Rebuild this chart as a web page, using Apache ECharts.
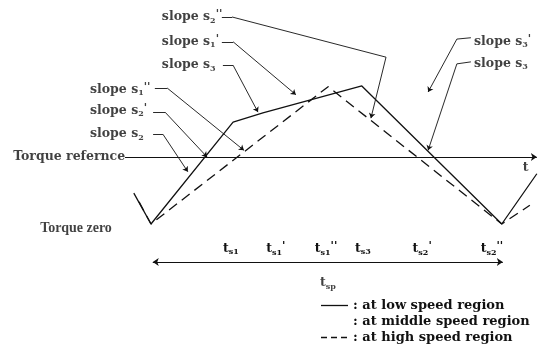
<!DOCTYPE html>
<html>
<head>
<meta charset="utf-8">
<script src="https://cdn.jsdelivr.net/npm/echarts@6/dist/echarts.min.js"></script>
<style>
  html, body { margin: 0; padding: 0; background: #fff; }
  #chart { width: 542px; height: 362px; }
</style>
</head>
<body>
<div id="chart"></div>
<script>
// Torque waveform over one switching period.
// Time in arbitrary units (period = 0..10), torque scaled so that 0 = zero and 1 = reference.
const lowSpeedTime    = [-0.49, 0, 2.34, 3.19, 6.01, 10.0, 11.0];
const lowSpeedTorque  = [0.46, 0, 1.52, 1.66, 2.06, 0, 0.75];
const highSpeedTime   = [-0.34, 0, 5.05, 10.0, 10.8];
const highSpeedTorque = [0.33, 0, 2.05, 0, 0.28];
const torqueReference = 1;
const periodStart = 0;
const periodEnd = 10;

// switching instants marked under the curves
const tickTimes  = [2.28, 3.56, 4.99, 6.04, 7.73, 9.72];
const tickSubs   = ['s1', 's1', 's1', 's3', 's2', 's2'];
const tickPrimes = ['', "'", "''", '', "'", "''"];

const legendNames = ['at low speed region', 'at middle speed region', 'at high speed region'];

const FONT = "'DejaVu Serif', 'Liberation Serif', serif";
const FONT_TIMES = "'Liberation Serif', 'Times New Roman', serif";
const INK = '#111';

const zip = (a, b) => a.map((v, i) => [v, b[i]]);

// slope callouts: label text pieces, label anchor and leader polyline (data units)
const slopeNotes = [
  { sub: '2', prime: "''", at: [0.31, 3.09], leader: [[2.02, 3.09], [2.31, 3.09], [6.70, 2.49], [6.27, 1.58]] },
  { sub: '1', prime: "'",  at: [0.31, 2.72], leader: [[2.02, 2.72], [2.34, 2.72], [4.13, 1.93]] },
  { sub: '3', prime: '',   at: [0.31, 2.37], leader: [[2.05, 2.37], [2.34, 2.37], [3.05, 1.67]] },
  { sub: '1', prime: "''", at: [-1.74, 2.01], leader: [[0.11, 2.03], [0.46, 2.03], [2.65, 1.10]] },
  { sub: '2', prime: "'",  at: [-1.74, 1.69], leader: [[0.06, 1.67], [0.40, 1.67], [1.60, 1.0]] },
  { sub: '2', prime: '',   at: [-1.74, 1.34], leader: [[0.06, 1.34], [0.34, 1.34], [1.05, 0.78]] },
  { sub: '3', prime: "'",  at: [9.21, 2.72], leader: [[9.12, 2.78], [8.72, 2.76], [7.90, 1.97]] },
  { sub: '3', prime: '',   at: [9.21, 2.39], leader: [[9.12, 2.42], [8.72, 2.39], [7.90, 1.10]] }
];

// each leader is split into plain segments, the last one ends in an arrow head
const leaderSegments = [];
slopeNotes.forEach(n => {
  for (let i = 0; i < n.leader.length - 1; i++) {
    const last = i === n.leader.length - 2;
    leaderSegments.push({
      coords: [n.leader[i], n.leader[i + 1]],
      symbol: last ? ['none', 'arrow'] : ['none', 'none']
    });
  }
});

const textRich = {
  a: { fontFamily: FONT, fontWeight: 'bold', fontSize: 12.5, color: INK },
  b: { fontFamily: FONT_TIMES, fontWeight: 'bold', fontSize: 14, color: INK },
  s: { fontFamily: FONT, fontWeight: 'bold', fontSize: 8, color: INK, padding: [7, 0, 0, 0] },
  p: { fontFamily: FONT, fontWeight: 'bold', fontSize: 11, color: INK, padding: [0, 0, 5, 0] }
};

function plainNote(text, x, y, style) {
  return {
    value: [x, y],
    label: { formatter: '{' + (style || 'a') + '|' + text + '}', rich: textRich }
  };
}

const noteLabels = slopeNotes.map(n => ({
  value: n.at,
  label: {
    formatter: '{a|slope s}{s|' + n.sub + '}' + (n.prime ? '{p|' + n.prime + '}' : ''),
    rich: textRich
  }
}));
noteLabels.push(plainNote('Torque refernce', -3.93, 1.0));
noteLabels.push(plainNote('Torque zero', -3.16, -0.06, 'b'));
noteLabels.push(plainNote('t', 10.6, 0.84));
noteLabels.push({
  value: [4.82, -0.88],
  label: { formatter: '{a|t}{s|sp}', rich: textRich }
});

const GRID_TOP = 2.9, GRID_HEIGHT = 355.1, Y_MIN = -2, Y_MAX = 3.3;

const chart = echarts.init(document.getElementById('chart'));
chart.setOption({
  animation: false,
  backgroundColor: '#fff',
  grid: {
    left: 0.16, width: 540.2, top: GRID_TOP, height: GRID_HEIGHT,
    containLabel: false, outerBoundsMode: 'none'
  },
  xAxis: {
    type: 'value', min: -4.3, max: 11.1, position: 'bottom',
    // time axis sits on the zero-torque level
    offset: -GRID_HEIGHT * (0 - Y_MIN) / (Y_MAX - Y_MIN),
    axisLine: { show: false, onZero: false },
    axisTick: { show: false },
    splitLine: { show: false },
    axisLabel: {
      customValues: tickTimes,
      margin: 17,
      formatter: function (v) {
        const i = tickTimes.indexOf(v);
        if (i < 0) return '';
        return '{a|t}{s|' + tickSubs[i] + '}' + (tickPrimes[i] ? '{p|' + tickPrimes[i] + '}' : '');
      },
      rich: textRich
    }
  },
  yAxis: {
    type: 'value', min: Y_MIN, max: Y_MAX, show: false
  },
  legend: {
    orient: 'vertical', left: 315, top: 294,
    itemWidth: 27, itemHeight: 14, itemGap: 3,
    selectedMode: false,
    itemStyle: { color: 'rgba(0,0,0,0)', borderWidth: 0 },
    data: [
      { name: legendNames[0], lineStyle: { color: INK, width: 1.3, type: 'solid' } },
      { name: legendNames[1], lineStyle: { opacity: 0 } },
      { name: legendNames[2], lineStyle: { color: INK, width: 1.3, type: [6, 4] } }
    ],
    formatter: name => ': ' + name,
    textStyle: { fontFamily: FONT, fontWeight: 'bold', fontSize: 13, color: INK }
  },
  series: [
    {
      name: legendNames[0], type: 'line', data: zip(lowSpeedTime, lowSpeedTorque),
      symbol: 'none', clip: false,
      lineStyle: { color: INK, width: 1.3 }, itemStyle: { color: INK }
    },
    {
      name: legendNames[1], type: 'line', data: [],
      symbol: 'none',
      lineStyle: { color: INK, width: 1.3, opacity: 0 }, itemStyle: { color: INK, opacity: 0 }
    },
    {
      name: legendNames[2], type: 'line', data: zip(highSpeedTime, highSpeedTorque),
      symbol: 'none', clip: false,
      lineStyle: { color: INK, width: 1.3, type: [10, 6] }, itemStyle: { color: INK }
    },
    {
      // torque reference level and the switching period
      type: 'lines', coordinateSystem: 'cartesian2d', silent: true,
      lineStyle: { color: INK, width: 1, opacity: 1 },
      symbolSize: 6,
      data: [
        { coords: [[-0.74, torqueReference], [11.0, torqueReference]], symbol: ['none', 'arrow'] },
        { coords: [[periodStart + 0.05, -0.567], [periodEnd + 0.03, -0.567]], symbol: ['arrow', 'arrow'] }
      ]
    },
    {
      // leaders from the slope callouts
      type: 'lines', coordinateSystem: 'cartesian2d', silent: true,
      lineStyle: { color: INK, width: 0.9, opacity: 1 },
      symbolSize: 5,
      data: leaderSegments
    },
    {
      type: 'scatter', symbolSize: 0, clip: false, silent: true,
      label: { show: true, position: [0, 0], align: 'left', verticalAlign: 'middle' },
      data: noteLabels
    }
  ]
});
</script>
</body>
</html>
